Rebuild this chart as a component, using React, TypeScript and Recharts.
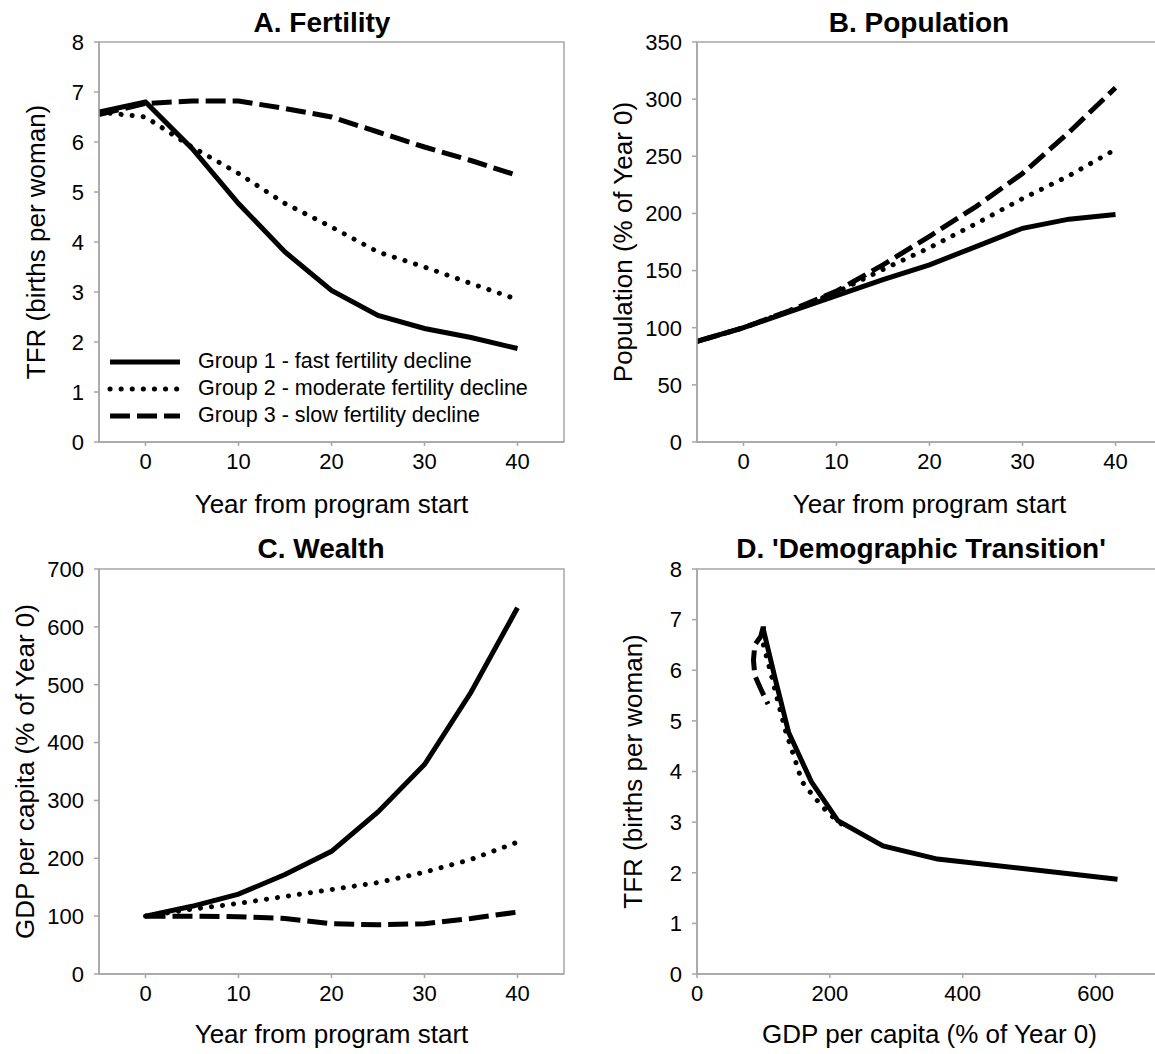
import React from 'react';
import { LineChart, Line, XAxis, YAxis, ReferenceArea, Legend } from 'recharts';

const FONT = '"Liberation Sans", Arial, Helvetica, sans-serif';
const AXIS = '#a6a6a6';

// years since program start (panels A, B)
const years = [-5, 0, 5, 10, 15, 20, 25, 30, 35, 40];
// panel C starts at year 0
const gdpYears = [0, 5, 10, 15, 20, 25, 30, 35, 40];

// A. total fertility rate, births per woman
const tfrG1 = [6.6, 6.8, 5.87, 4.77, 3.8, 3.03, 2.53, 2.27, 2.09, 1.87];
const tfrG2 = [6.6, 6.5, 5.9, 5.37, 4.77, 4.3, 3.8, 3.5, 3.17, 2.85];
const tfrG3 = [6.55, 6.77, 6.82, 6.82, 6.67, 6.5, 6.2, 5.9, 5.63, 5.33];

// B. population, % of year 0
const popG1 = [88, 100, 114, 128, 142, 155, 171, 187, 195, 199];
const popG2 = [88, 100, 115, 131, 151, 170, 191, 213, 233, 256];
const popG3 = [88, 100, 115, 132, 155, 180, 206, 235, 271, 310];

// C. GDP per capita, % of year 0
const gdpG1 = [100, 117, 138, 172, 212, 280, 362, 487, 633];
const gdpG2 = [100, 112, 122, 134, 146, 158, 176, 198, 228];
const gdpG3 = [100, 100, 99, 96, 87, 85, 87, 96, 107];

const groupNames = [
  'Group 1 - fast fertility decline',
  'Group 2 - moderate fertility decline',
  'Group 3 - slow fertility decline',
];

const xTicksYear = [0, 10, 20, 30, 40];
const yTicksTfr = [0, 1, 2, 3, 4, 5, 6, 7, 8];
const yTicksPop = [0, 50, 100, 150, 200, 250, 300, 350];
const yTicksGdp = [0, 100, 200, 300, 400, 500, 600, 700];
const xTicksGdp = [0, 200, 400, 600];

const fertData = years.map((year, i) => ({ year, g1: tfrG1[i], g2: tfrG2[i], g3: tfrG3[i] }));
const popData = years.map((year, i) => ({ year, g1: popG1[i], g2: popG2[i], g3: popG3[i] }));
const wealthData = gdpYears.map((year, i) => ({ year, g1: gdpG1[i], g2: gdpG2[i], g3: gdpG3[i] }));

// D. TFR against GDP, years 0..40 (TFR arrays start at year -5)
const pairs = (gdp: number[], tfr: number[]) => gdp.map((g, i) => ({ gdp: g, tfr: tfr[i + 1] }));
const transG1 = pairs(gdpG1, tfrG1);
const transG2 = pairs(gdpG2, tfrG2);
const transG3 = pairs(gdpG3, tfrG3);

const styles: Record<string, any> = {
  g1: { stroke: '#000', strokeWidth: 5 },
  g2: { stroke: '#000', strokeWidth: 5, strokeDasharray: '0.1 11', strokeLinecap: 'round' },
  g3: { stroke: '#000', strokeWidth: 5, strokeDasharray: '20 7' },
};

const tickStyle = { fill: '#000', fontSize: 22, fontFamily: FONT };
const labelStyle = { fill: '#000', fontSize: 26, fontFamily: FONT };

function GroupLegend() {
  const keys = ['g1', 'g2', 'g3'];
  return (
    <div style={{ fontFamily: FONT, fontSize: 21.5, color: '#000', width: 480, textAlign: 'left' }}>
      {keys.map((k, i) => (
        <div key={k} style={{ display: 'flex', alignItems: 'center', justifyContent: 'flex-start', height: 27 }}>
          <svg width={76} height={10} style={{ marginRight: 15, flexShrink: 0 }}>
            <line x1={3} y1={5} x2={73} y2={5} {...styles[k]} />
          </svg>
          <span style={{ whiteSpace: 'nowrap' }}>{groupNames[i]}</span>
        </div>
      ))}
    </div>
  );
}

interface PanelProps {
  left: number;
  top: number;
  width: number;
  height: number;
  margin: { top: number; right: number; bottom: number; left: number };
  yAxisWidth: number;
  xAxisHeight: number;
  xKey: string;
  xDomain: [number, number];
  xTicks: number[];
  yDomain: [number, number];
  yTicks: number[];
  xLabel: string;
  xLabelOffset: number;
  yLabel: string;
  yLabelX: number;
  title: string;
  titleX: number;
  titleY: number;
  data?: any[];
  children: React.ReactNode;
}

function Panel(p: PanelProps) {
  return (
    <div style={{ position: 'absolute', left: p.left, top: p.top, width: p.width, height: p.height }}>
      <LineChart width={p.width} height={p.height} data={p.data} margin={p.margin}>
        <XAxis
          dataKey={p.xKey}
          type="number"
          domain={p.xDomain}
          ticks={p.xTicks}
          height={p.xAxisHeight}
          axisLine={{ stroke: AXIS, strokeWidth: 1.5 }}
          tickLine={{ stroke: AXIS, strokeWidth: 1.5 }}
          tickSize={4}
          tickMargin={7}
          tick={tickStyle}
          allowDataOverflow
          label={{ value: p.xLabel, position: 'insideBottom', offset: p.xLabelOffset, ...labelStyle }}
        />
        <YAxis
          type="number"
          domain={p.yDomain}
          ticks={p.yTicks}
          width={p.yAxisWidth}
          axisLine={{ stroke: AXIS, strokeWidth: 1.5 }}
          tickLine={{ stroke: AXIS, strokeWidth: 1.5 }}
          tickSize={5}
          tickMargin={10}
          tick={tickStyle}
          allowDataOverflow
          label={{
            value: p.yLabel,
            angle: -90,
            position: 'insideLeft',
            offset: p.yLabelX,
            style: { textAnchor: 'middle' },
            ...labelStyle,
          }}
        />
        <ReferenceArea
          x1={p.xDomain[0]}
          x2={p.xDomain[1]}
          y1={p.yDomain[0]}
          y2={p.yDomain[1]}
          fill="none"
          stroke={AXIS}
          strokeWidth={1.5}
        />
        {p.children}
      </LineChart>
      <div
        style={{
          position: 'absolute',
          left: p.titleX - 250,
          top: p.titleY - 17,
          width: 500,
          lineHeight: '34px',
          textAlign: 'center',
          fontFamily: FONT,
          fontSize: 28,
          fontWeight: 'bold',
          color: '#000',
        }}
      >
        {p.title}
      </div>
    </div>
  );
}

export default function App() {
  return (
    <div
      style={{
        position: 'absolute',
        left: 0,
        top: 0,
        width: 1155,
        height: 1054,
        overflow: 'hidden',
        background: '#fff',
      }}
    >
      <Panel
        left={0}
        top={0}
        width={580}
        height={520}
        margin={{ top: 42, right: 16, bottom: 0, left: 0 }}
        yAxisWidth={99}
        xAxisHeight={78}
        xKey="year"
        xDomain={[-5, 45]}
        xTicks={xTicksYear}
        yDomain={[0, 8]}
        yTicks={yTicksTfr}
        xLabel="Year from program start"
        xLabelOffset={7}
        yLabel="TFR (births per woman)"
        yLabelX={36}
        title="A. Fertility"
        titleX={322}
        titleY={23}
        data={fertData}
      >
        <Legend
          layout="vertical"
          align="center"
          verticalAlign="middle"
          content={() => <GroupLegend />}
          wrapperStyle={{ left: 107, top: 348, width: 480 }}
        />
        <Line dataKey="g1" name={groupNames[0]} type="linear" dot={false} isAnimationActive={false} {...styles.g1} />
        <Line dataKey="g2" name={groupNames[1]} type="linear" dot={false} isAnimationActive={false} {...styles.g2} />
        <Line dataKey="g3" name={groupNames[2]} type="linear" dot={false} isAnimationActive={false} {...styles.g3} />
      </Panel>

      <Panel
        left={580}
        top={0}
        width={590}
        height={520}
        margin={{ top: 42, right: 8, bottom: 0, left: 0 }}
        yAxisWidth={117}
        xAxisHeight={78}
        xKey="year"
        xDomain={[-5, 45]}
        xTicks={xTicksYear}
        yDomain={[0, 350]}
        yTicks={yTicksPop}
        xLabel="Year from program start"
        xLabelOffset={7}
        yLabel="Population (% of Year 0)"
        yLabelX={43}
        title="B. Population"
        titleX={339}
        titleY={23}
        data={popData}
      >
        <Line dataKey="g1" type="linear" dot={false} isAnimationActive={false} {...styles.g1} />
        <Line dataKey="g2" type="linear" dot={false} isAnimationActive={false} {...styles.g2} />
        <Line dataKey="g3" type="linear" dot={false} isAnimationActive={false} {...styles.g3} />
      </Panel>

      <Panel
        left={0}
        top={520}
        width={580}
        height={534}
        margin={{ top: 49, right: 16, bottom: 0, left: 0 }}
        yAxisWidth={99}
        xAxisHeight={80}
        xKey="year"
        xDomain={[-5, 45]}
        xTicks={xTicksYear}
        yDomain={[0, 700]}
        yTicks={yTicksGdp}
        xLabel="Year from program start"
        xLabelOffset={11}
        yLabel="GDP per capita (% of Year 0)"
        yLabelX={25}
        title="C. Wealth"
        titleX={321}
        titleY={29}
        data={wealthData}
      >
        <Line dataKey="g1" type="linear" dot={false} isAnimationActive={false} {...styles.g1} />
        <Line dataKey="g2" type="linear" dot={false} isAnimationActive={false} {...styles.g2} />
        <Line dataKey="g3" type="linear" dot={false} isAnimationActive={false} {...styles.g3} />
      </Panel>

      <Panel
        left={580}
        top={520}
        width={590}
        height={534}
        margin={{ top: 49, right: 8, bottom: 0, left: 0 }}
        yAxisWidth={117}
        xAxisHeight={80}
        xKey="gdp"
        xDomain={[0, 700]}
        xTicks={xTicksGdp}
        yDomain={[0, 8]}
        yTicks={yTicksTfr}
        xLabel="GDP per capita (% of Year 0)"
        xLabelOffset={11}
        yLabel="TFR (births per woman)"
        yLabelX={53}
        title="D. 'Demographic Transition'"
        titleX={341}
        titleY={29}
      >
        <Line data={transG1} dataKey="tfr" type="linear" dot={false} isAnimationActive={false} {...styles.g1} />
        <Line data={transG2} dataKey="tfr" type="linear" dot={false} isAnimationActive={false} {...styles.g2} />
        <Line data={transG3} dataKey="tfr" type="linear" dot={false} isAnimationActive={false} {...styles.g3} />
      </Panel>
    </div>
  );
}
